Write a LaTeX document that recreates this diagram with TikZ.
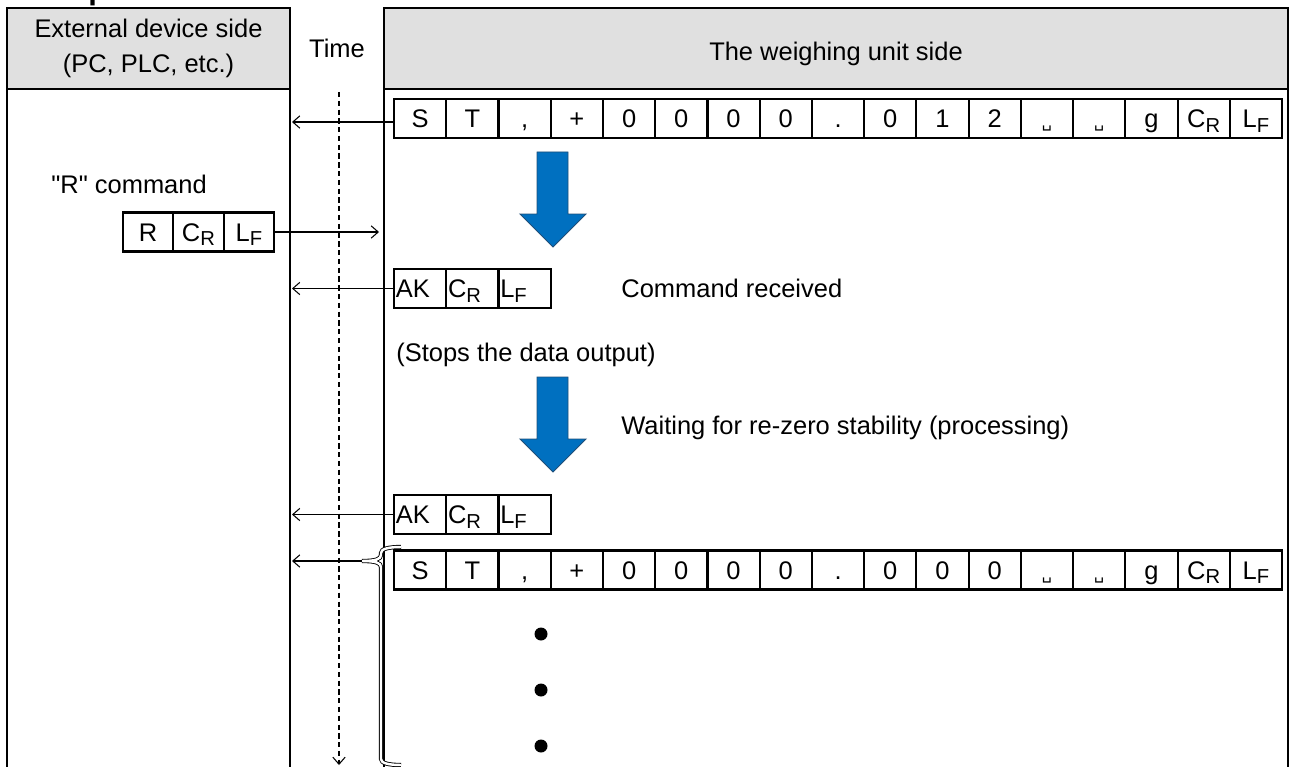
\documentclass[tikz,border=0pt]{standalone}
\usepackage{fontspec}
\setmainfont{Liberation Sans}
\newfontfamily\symfont{DejaVu Sans}
\usetikzlibrary{positioning,arrows.meta}

\definecolor{headgray}{RGB}{224,224,224}
\definecolor{arrowblue}{RGB}{0,112,192}
\definecolor{arrowedge}{RGB}{31,78,121}

\newcommand{\lowidx}[1]{\raisebox{-0.35ex}{\fontsize{11.5}{11.5}\selectfont #1}}
\newcommand{\spc}{{\symfont\fontsize{9}{9}\selectfont ␣}}

\begin{document}
\begin{tikzpicture}[x=0.02cm, y=-0.02cm,
    >={Straight Barb[length=4pt,width=7pt]},
    every node/.append style={font=\fontsize{14.5}{20}\selectfont},
    frame/.style={draw, line width=1.2pt},
    headbox/.style={frame, fill=headgray, inner sep=0pt, align=center},
    cell/.style={frame, minimum width=1.045cm, minimum height=0.78cm, inner sep=0pt, text height=10.4pt, text depth=0pt},
    leftcell/.style={frame, text width=27.7pt, inner xsep=1pt, inner ysep=0pt, minimum height=0.78cm, align=left, text height=10.4pt, text depth=0pt},
    msg/.style={->, line width=0.6pt},
    bigarrow/.style={fill=arrowblue, draw=arrowedge, line width=0.5pt},
    note/.style={anchor=west, inner sep=0pt}]
    \useasboundingbox (0,0) rectangle (1292,767);
    \clip (0,0) rectangle (1292,767);

    % title (cut off at the top)
    \node[anchor=base west, inner sep=0pt, font=\bfseries\fontsize{17.5}{20}\selectfont] (title) at (6,-0.8) {Example of R command};

    % panels
    \node[headbox, minimum width=5.66cm, minimum height=1.62cm] (devhead) at (148.5,48.5) {External device side\\(PC, PLC, etc.)};
    \node[headbox, minimum width=18.08cm, minimum height=1.62cm, text height=10.4pt, text depth=0pt] (unithead) at (836,48.5) {};
    \node (unittext) at (836,54) {The weighing unit side};
    \draw[frame] (7,89) rectangle (290,800);
    \draw[frame] (384,89) rectangle (1288,800);
    \node (time) at (337,48.5) {Time};
    \draw[->, dash pattern=on 3pt off 2pt, line width=0.6pt] (339,92) -- (339,765);
    \coordinate (devedge) at (292,0);
    \coordinate (unitedge) at (379,0);

    % first data output
    \foreach \t [count=\i] in {S,T,{,},+,0,0,0,0,.,0,1,2,\spc,\spc,g,C\lowidx{R},L\lowidx{F}}
        \node[cell] (ra\i) at ({394+52.24*(\i-0.5)},118.5) {\t};
    \draw[msg] ([yshift=-2pt]ra1.west) -- ([yshift=-2pt]ra1.west -| devedge);

    % R command
    \node[note] (rcmd) at (51,184) {\textquotedbl R\textquotedbl\ command};
    \foreach \t [count=\i] in {R,C\lowidx{R},L\lowidx{F}}
        \node[cell, minimum width=1.01cm] (rl\i) at ({122.7+50.5*(\i-0.5)},232) {\t};
    \draw[msg] (rl3.east) -- (rl3.east -| unitedge);

    % big arrows
    \foreach \ya in {152,377}
        \draw[bigarrow] (537,\ya) -- (568,\ya) -- (568,\ya+62) -- (586,\ya+62) -- (553,\ya+95) -- (520,\ya+62) -- (537,\ya+62) -- cycle;

    % acknowledgement
    \foreach \t [count=\i] in {AK,C\lowidx{R},L\lowidx{F}}
        \node[leftcell] (ka\i) at ({394+52.24*(\i-0.5)},288.5) {\t};
    \draw[msg] (ka1.west) -- (ka1.west -| devedge);
    \node[note] (recv) at (621,288.5) {Command received};
    \node[note] (stops) at (396,355) {(Stops the data output)};
    \node[note] (wait) at (621,428) {Waiting for re-zero stability (processing)};

    % acknowledgement after re-zero
    \foreach \t [count=\i] in {AK,C\lowidx{R},L\lowidx{F}}
        \node[leftcell] (kb\i) at ({394+52.24*(\i-0.5)},514.5) {\t};
    \draw[msg] (kb1.west) -- (kb1.west -| devedge);

    % data output restarts
    \foreach \t [count=\i] in {S,T,{,},+,0,0,0,0,.,0,0,0,\spc,\spc,g,C\lowidx{R},L\lowidx{F}}
        \node[cell] (rb\i) at ({394+52.24*(\i-0.5)},570) {\t};
    \coordinate (brtip) at (362,561);
    \draw[line width=0.5pt, double, double distance=1.4pt] (401,547) .. controls (388,547) and (381,549) .. (381,553)
        -- (381,555) .. controls (381,559) and (376,561) .. (brtip)
        .. controls (376,561) and (381,563) .. (381,567)
        -- (381,759) .. controls (381,763) and (388,765) .. (401,765);
    \draw[msg] (brtip) -- (brtip -| devedge);
    \foreach \yd in {634,690,746}
        \fill (541,\yd) circle (0.13cm);
\end{tikzpicture}
\end{document}
